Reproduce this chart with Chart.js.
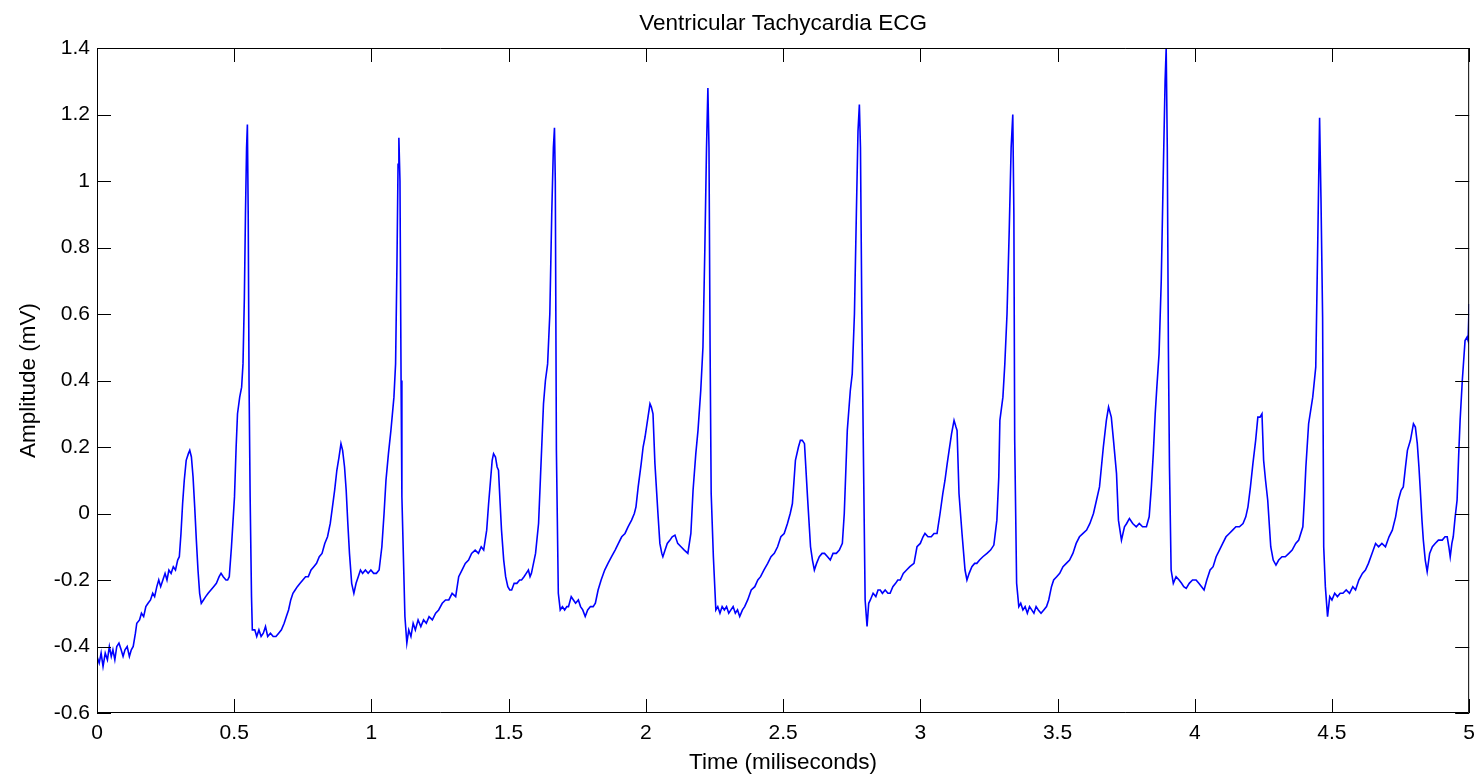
<!DOCTYPE html>
<html>
<head>
<meta charset="utf-8">
<title>Ventricular Tachycardia ECG</title>
<script src="https://cdn.jsdelivr.net/npm/chart.js@4.4.0/dist/chart.umd.min.js"></script>
<style>
  html, body { margin: 0; padding: 0; background: #fff; }
  #ecgChart { display: block; }
</style>
</head>
<body>
<canvas id="ecgChart" width="1483" height="779"></canvas>
<script>
// ============================================================================
// Data
// ============================================================================

const TIME_MS = [
  0.000, 0.008, 0.015, 0.022, 0.030, 0.038, 0.045, 0.052, 0.058, 0.065, 0.072, 0.080, 0.088, 0.095, 0.102, 0.110, 0.118, 0.125, 0.132,
  0.140, 0.145, 0.155, 0.162, 0.170, 0.178, 0.186, 0.195, 0.203, 0.210, 0.218, 0.225, 0.232, 0.240, 0.248, 0.255, 0.262, 0.270, 0.278, 0.286, 0.294, 0.300,
  0.306, 0.312, 0.318, 0.325, 0.333, 0.338, 0.344, 0.350, 0.356, 0.362, 0.368, 0.374, 0.380, 0.388, 0.396, 0.405, 0.415, 0.425, 0.435, 0.445, 0.452, 0.460, 0.470, 0.476,
  0.482, 0.490, 0.501, 0.507, 0.512, 0.520, 0.527, 0.532, 0.537, 0.541, 0.545, 0.548, 0.551, 0.554, 0.558, 0.563, 0.566,
  0.575, 0.582, 0.590, 0.598, 0.606, 0.614, 0.622, 0.632, 0.642, 0.652, 0.662, 0.672, 0.682, 0.690, 0.698, 0.706, 0.714, 0.722, 0.730, 0.740, 0.750, 0.760, 0.770, 0.780, 0.790, 0.800, 0.810, 0.820, 0.830, 0.840, 0.850,
  0.858, 0.866, 0.874, 0.882, 0.889, 0.895, 0.902, 0.908, 0.914, 0.920, 0.928, 0.936, 0.944, 0.952, 0.960, 0.968, 0.978, 0.988, 0.998, 1.008, 1.018, 1.028,
  1.038, 1.046, 1.053, 1.062, 1.071, 1.082, 1.088, 1.093, 1.097, 1.100, 1.104, 1.108, 1.111, 1.122, 1.129,
  1.136, 1.144, 1.152, 1.160, 1.170, 1.180, 1.190, 1.200, 1.210, 1.222, 1.234, 1.245, 1.258, 1.270, 1.282, 1.294, 1.307, 1.318, 1.330, 1.342, 1.354, 1.365, 1.378, 1.390, 1.400, 1.409, 1.420, 1.427,
  1.434, 1.440, 1.445, 1.452, 1.458, 1.463, 1.469, 1.474, 1.482, 1.489, 1.497, 1.504, 1.511, 1.520, 1.530, 1.540, 1.547, 1.556, 1.564, 1.572, 1.578, 1.583,
  1.598, 1.609, 1.616, 1.620, 1.627, 1.634, 1.642, 1.650, 1.657, 1.663, 1.667, 1.670, 1.674, 1.681, 1.688,
  1.696, 1.704, 1.712, 1.718, 1.728, 1.736, 1.744, 1.754, 1.762, 1.770, 1.779, 1.788, 1.798, 1.808, 1.816, 1.826, 1.837, 1.850, 1.862, 1.875, 1.888, 1.900, 1.912, 1.924, 1.935, 1.948, 1.958, 1.964,
  1.972, 1.983, 1.990, 1.997, 2.006, 2.015, 2.020, 2.026, 2.033, 2.044, 2.051, 2.058, 2.062, 2.070, 2.078, 2.088, 2.096, 2.106, 2.116, 2.128, 2.140, 2.153,
  2.164, 2.172, 2.182, 2.190, 2.200, 2.208, 2.215, 2.221, 2.226, 2.230, 2.234, 2.238, 2.246, 2.255,
  2.262, 2.270, 2.278, 2.286, 2.294, 2.302, 2.310, 2.318, 2.326, 2.334, 2.342, 2.352, 2.360, 2.371, 2.384, 2.397, 2.408, 2.418, 2.430, 2.444, 2.456, 2.468, 2.480, 2.492, 2.504, 2.516, 2.526, 2.534,
  2.545, 2.556, 2.563, 2.570, 2.578, 2.589, 2.600, 2.607, 2.614, 2.622, 2.632, 2.642, 2.651, 2.662, 2.672, 2.682, 2.694, 2.705, 2.716,
  2.723, 2.734, 2.745, 2.752, 2.760, 2.767, 2.773, 2.778, 2.782, 2.787, 2.793, 2.799, 2.806,
  2.812, 2.818, 2.828, 2.838, 2.846, 2.854, 2.862, 2.872, 2.882, 2.890, 2.900, 2.910, 2.918, 2.927, 2.938, 2.950, 2.962, 2.977, 2.988, 3.000, 3.010, 3.017, 3.028, 3.040, 3.050, 3.061,
  3.072, 3.082, 3.090, 3.098, 3.105, 3.114, 3.123, 3.130, 3.134, 3.141, 3.152, 3.163, 3.170, 3.178, 3.188, 3.198, 3.206, 3.216, 3.228, 3.243, 3.256, 3.268,
  3.279, 3.286, 3.290, 3.301, 3.308, 3.316, 3.324, 3.331, 3.337, 3.341, 3.344, 3.351, 3.359,
  3.366, 3.374, 3.382, 3.390, 3.398, 3.406, 3.414, 3.422, 3.430, 3.440, 3.450, 3.460, 3.468, 3.478, 3.486, 3.497, 3.508, 3.520, 3.532, 3.544, 3.556, 3.568, 3.580, 3.593, 3.606, 3.618, 3.631,
  3.642, 3.653, 3.667, 3.678, 3.686, 3.696, 3.704, 3.715, 3.722, 3.733, 3.744, 3.752, 3.762, 3.774, 3.787, 3.798, 3.810, 3.824, 3.834,
  3.842, 3.849, 3.856, 3.862, 3.870, 3.878, 3.886, 3.892, 3.896, 3.900, 3.904, 3.908, 3.914, 3.922,
  3.932, 3.943, 3.952, 3.960, 3.969, 3.980, 3.992, 4.005, 4.015, 4.025, 4.034, 4.044, 4.056, 4.067, 4.078, 4.090, 4.102, 4.114, 4.126, 4.138, 4.150, 4.163, 4.176, 4.186, 4.194,
  4.203, 4.212, 4.222, 4.230, 4.238, 4.245, 4.251, 4.258, 4.266, 4.277, 4.286, 4.296, 4.306, 4.318, 4.330, 4.343, 4.355, 4.368, 4.379, 4.394,
  4.400, 4.405, 4.415, 4.430, 4.441, 4.448, 4.455, 4.460, 4.466, 4.470, 4.476, 4.484,
  4.492, 4.500, 4.510, 4.520, 4.530, 4.540, 4.552, 4.564, 4.576, 4.586, 4.598, 4.611, 4.622, 4.633, 4.646, 4.659, 4.670, 4.682, 4.695, 4.708, 4.720, 4.732, 4.742, 4.752,
  4.760, 4.768, 4.775, 4.786, 4.797, 4.804, 4.811, 4.817, 4.822, 4.828, 4.833, 4.840, 4.847, 4.856, 4.866, 4.876, 4.888, 4.902, 4.912, 4.920, 4.926, 4.931, 4.937, 4.942, 4.949, 4.956,
  4.962, 4.967, 4.975, 4.985, 4.992, 4.996, 5.000
];

const AMPLITUDE_MV = [
  -0.43, -0.45, -0.42, -0.46, -0.42, -0.44, -0.40, -0.43, -0.41, -0.44, -0.40, -0.39, -0.41, -0.43, -0.41, -0.40, -0.43, -0.41, -0.40,
  -0.36, -0.33, -0.32, -0.30, -0.31, -0.28, -0.27, -0.26, -0.24, -0.25, -0.22, -0.20, -0.22, -0.20, -0.18, -0.20, -0.17, -0.18, -0.16, -0.17, -0.14, -0.13,
  -0.06, 0.03, 0.10, 0.16, 0.18, 0.19, 0.17, 0.11, 0.02, -0.08, -0.17, -0.24, -0.27, -0.26, -0.25, -0.24, -0.23, -0.22, -0.21, -0.19, -0.18, -0.19, -0.20, -0.20,
  -0.19, -0.10, 0.05, 0.20, 0.30, 0.35, 0.38, 0.45, 0.65, 0.90, 1.10, 1.17, 0.90, 0.40, 0.05, -0.25, -0.35,
  -0.35, -0.37, -0.35, -0.37, -0.36, -0.34, -0.37, -0.36, -0.37, -0.37, -0.36, -0.35, -0.33, -0.31, -0.29, -0.26, -0.24, -0.23, -0.22, -0.21, -0.20, -0.19, -0.19, -0.17, -0.16, -0.15, -0.13, -0.12, -0.09, -0.07, -0.03,
  0.02, 0.07, 0.13, 0.17, 0.21, 0.19, 0.14, 0.07, -0.03, -0.12, -0.21, -0.24, -0.21, -0.19, -0.17, -0.18, -0.17, -0.18, -0.17, -0.18, -0.18, -0.17,
  -0.10, 0.00, 0.10, 0.18, 0.25, 0.35, 0.45, 0.75, 1.05, 1.13, 1.00, 0.40, 0.05, -0.31, -0.39,
  -0.35, -0.37, -0.33, -0.35, -0.32, -0.34, -0.32, -0.33, -0.31, -0.32, -0.30, -0.29, -0.27, -0.26, -0.26, -0.24, -0.25, -0.19, -0.17, -0.15, -0.14, -0.12, -0.11, -0.12, -0.10, -0.11, -0.05, 0.03,
  0.10, 0.16, 0.18, 0.17, 0.14, 0.13, 0.03, -0.05, -0.14, -0.19, -0.22, -0.23, -0.23, -0.21, -0.21, -0.20, -0.20, -0.19, -0.18, -0.17, -0.19, -0.18,
  -0.12, -0.03, 0.11, 0.19, 0.33, 0.40, 0.45, 0.60, 0.90, 1.10, 1.16, 1.00, 0.19, -0.24, -0.29,
  -0.28, -0.29, -0.28, -0.28, -0.25, -0.26, -0.27, -0.26, -0.28, -0.29, -0.31, -0.29, -0.28, -0.28, -0.27, -0.23, -0.20, -0.17, -0.15, -0.13, -0.11, -0.09, -0.07, -0.06, -0.04, -0.02, 0.00, 0.02,
  0.08, 0.15, 0.20, 0.23, 0.28, 0.33, 0.32, 0.30, 0.15, 0.00, -0.09, -0.12, -0.13, -0.11, -0.09, -0.08, -0.07, -0.065, -0.09, -0.10, -0.11, -0.12,
  -0.06, 0.07, 0.18, 0.25, 0.37, 0.50, 0.80, 1.10, 1.28, 1.10, 0.50, 0.06, -0.13, -0.29,
  -0.28, -0.30, -0.28, -0.29, -0.28, -0.30, -0.29, -0.28, -0.30, -0.29, -0.31, -0.29, -0.28, -0.26, -0.23, -0.22, -0.20, -0.19, -0.17, -0.15, -0.13, -0.12, -0.10, -0.07, -0.06, -0.03, 0.00, 0.03,
  0.16, 0.20, 0.22, 0.22, 0.21, 0.05, -0.10, -0.14, -0.17, -0.15, -0.13, -0.12, -0.12, -0.13, -0.14, -0.12, -0.12, -0.11, -0.09,
  0.00, 0.25, 0.37, 0.42, 0.60, 0.90, 1.15, 1.23, 1.10, 0.60, 0.16, -0.26, -0.34,
  -0.27, -0.26, -0.24, -0.25, -0.23, -0.23, -0.24, -0.23, -0.24, -0.24, -0.22, -0.21, -0.20, -0.20, -0.18, -0.17, -0.16, -0.15, -0.10, -0.09, -0.07, -0.06, -0.07, -0.07, -0.06, -0.06,
  0.00, 0.06, 0.10, 0.15, 0.19, 0.24, 0.28, 0.26, 0.25, 0.06, -0.06, -0.17, -0.20, -0.18, -0.16, -0.15, -0.15, -0.14, -0.13, -0.12, -0.11, -0.095,
  -0.02, 0.11, 0.28, 0.35, 0.45, 0.60, 0.85, 1.10, 1.20, 0.90, 0.22, -0.21, -0.28,
  -0.27, -0.29, -0.28, -0.30, -0.28, -0.29, -0.30, -0.28, -0.29, -0.30, -0.29, -0.28, -0.26, -0.22, -0.20, -0.19, -0.18, -0.16, -0.15, -0.14, -0.12, -0.09, -0.07, -0.06, -0.05, -0.03, 0.00,
  0.04, 0.08, 0.20, 0.28, 0.32, 0.29, 0.22, 0.12, -0.02, -0.08, -0.04, -0.03, -0.015, -0.03, -0.04, -0.03, -0.04, -0.04, -0.01,
  0.08, 0.18, 0.30, 0.38, 0.48, 0.70, 1.05, 1.30, 1.40, 1.10, 0.50, 0.14, -0.17, -0.21,
  -0.19, -0.20, -0.21, -0.22, -0.225, -0.21, -0.20, -0.20, -0.21, -0.22, -0.23, -0.20, -0.17, -0.16, -0.13, -0.11, -0.09, -0.07, -0.06, -0.05, -0.04, -0.04, -0.03, -0.01, 0.02,
  0.08, 0.15, 0.22, 0.29, 0.29, 0.30, 0.16, 0.10, 0.04, -0.10, -0.14, -0.155, -0.14, -0.13, -0.13, -0.12, -0.11, -0.09, -0.08, -0.04,
  0.05, 0.14, 0.27, 0.35, 0.44, 0.80, 1.19, 0.95, 0.59, -0.10, -0.22, -0.31,
  -0.25, -0.26, -0.24, -0.25, -0.24, -0.24, -0.23, -0.24, -0.22, -0.23, -0.20, -0.18, -0.17, -0.15, -0.12, -0.09, -0.10, -0.09, -0.10, -0.07, -0.05, -0.01, 0.04, 0.07,
  0.08, 0.14, 0.19, 0.22, 0.27, 0.26, 0.21, 0.14, 0.07, -0.02, -0.08, -0.14, -0.175, -0.12, -0.10, -0.09, -0.08, -0.08, -0.07, -0.07, -0.10, -0.13, -0.09, -0.07, -0.01, 0.04,
  0.18, 0.28, 0.40, 0.52, 0.53, 0.52, 0.63
];

const X_TICKS = [0, 0.5, 1, 1.5, 2, 2.5, 3, 3.5, 4, 4.5, 5];
const Y_TICKS = [-0.6, -0.4, -0.2, 0, 0.2, 0.4, 0.6, 0.8, 1, 1.2, 1.4];

const CHART_TITLE = 'Ventricular Tachycardia ECG';
const X_LABEL = 'Time (miliseconds)';
const Y_LABEL = 'Amplitude (mV)';

// ============================================================================
// Helpers
// ============================================================================

const FONT_FAMILY = "'Liberation Sans', Arial, Helvetica, sans-serif";
const TICK_LEN = 14;

/**
 * Format a tick value like MATLAB does (no trailing zeros)
 */
function formatTick(value) {
  const v = Math.round(value * 10) / 10;
  return String(v === 0 ? 0 : v);
}

/**
 * Title centred over the plot box (MATLAB style), not over the whole canvas
 */
const axesTitlePlugin = {
  id: 'axesTitle',
  afterDraw(chart) {
    const { ctx, chartArea: a } = chart;
    ctx.save();
    ctx.fillStyle = '#000';
    ctx.font = `22.5px ${FONT_FAMILY}`;
    ctx.textAlign = 'center';
    ctx.textBaseline = 'alphabetic';
    ctx.fillText(CHART_TITLE, (a.left + a.right) / 2, 30);
    ctx.restore();
  }
};

/**
 * Box around the plot area with inward tick marks on all four sides
 */
const axesBoxPlugin = {
  id: 'axesBox',
  afterDraw(chart) {
    const { ctx, chartArea: a, scales } = chart;
    ctx.save();
    ctx.strokeStyle = '#000';
    ctx.lineWidth = 1;
    ctx.beginPath();
    ctx.rect(a.left + 0.5, a.top + 0.5, a.right - a.left - 1, a.bottom - a.top - 1);

    X_TICKS.forEach(v => {
      const px = Math.round(scales.x.getPixelForValue(v)) + 0.5;
      ctx.moveTo(px, a.bottom);
      ctx.lineTo(px, a.bottom - TICK_LEN);
      ctx.moveTo(px, a.top);
      ctx.lineTo(px, a.top + TICK_LEN);
    });
    Y_TICKS.forEach(v => {
      const py = Math.round(scales.y.getPixelForValue(v)) + 0.5;
      ctx.moveTo(a.left, py);
      ctx.lineTo(a.left + TICK_LEN, py);
      ctx.moveTo(a.right, py);
      ctx.lineTo(a.right - TICK_LEN, py);
    });
    ctx.stroke();
    ctx.restore();
  }
};

// ============================================================================
// Chart
// ============================================================================

function renderChart() {
  const ctx = document.getElementById('ecgChart').getContext('2d');
  const points = TIME_MS.map((t, i) => ({ x: t, y: AMPLITUDE_MV[i] }));
  const tickFont = { family: FONT_FAMILY, size: 21 };
  const labelFont = { family: FONT_FAMILY, size: 22.5 };

  new Chart(ctx, {
    type: 'line',
    data: {
      datasets: [{
        data: points,
        borderColor: '#0000ff',
        borderWidth: 1.6,
        pointRadius: 0,
        tension: 0,
        fill: false
      }]
    },
    options: {
      responsive: false,
      animation: false,
      devicePixelRatio: 1,
      layout: { padding: { left: 0, right: 9, top: 48, bottom: 0 } },
      plugins: {
        legend: { display: false },
        tooltip: { enabled: false },
        title: { display: false }
      },
      scales: {
        x: {
          type: 'linear',
          min: 0,
          max: 5,
          grid: { display: false, drawTicks: false },
          border: { display: false },
          afterBuildTicks: scale => { scale.ticks = X_TICKS.map(v => ({ value: v })); },
          afterFit: scale => { scale.height = 66; },
          ticks: {
            color: '#000',
            font: tickFont,
            padding: 8,
            maxRotation: 0,
            autoSkip: false,
            callback: formatTick
          },
          title: {
            display: true,
            text: X_LABEL,
            color: '#000',
            font: labelFont,
            padding: { top: 0, bottom: 3 }
          }
        },
        y: {
          type: 'linear',
          min: -0.6,
          max: 1.4,
          grid: { display: false, drawTicks: false },
          border: { display: false },
          afterBuildTicks: scale => { scale.ticks = Y_TICKS.map(v => ({ value: v })); },
          afterFit: scale => { scale.width = 97; },
          ticks: {
            color: '#000',
            font: tickFont,
            padding: 7,
            autoSkip: false,
            callback: formatTick
          },
          title: {
            display: true,
            text: Y_LABEL,
            color: '#000',
            font: labelFont,
            padding: { top: 15, bottom: 0 }
          }
        }
      }
    },
    plugins: [axesBoxPlugin, axesTitlePlugin]
  });
}

renderChart();
</script>
</body>
</html>
